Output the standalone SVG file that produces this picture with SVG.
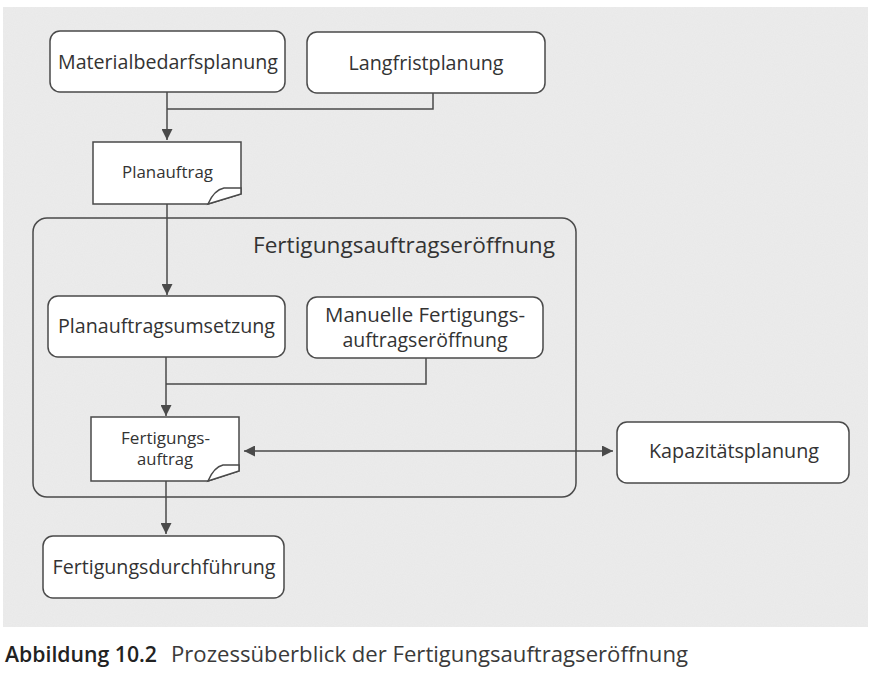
<svg xmlns="http://www.w3.org/2000/svg" width="876" height="682" viewBox="0 0 876 682">
  <defs>
    <style>
      .box { fill: #ffffff; stroke: #4a4a4a; stroke-width: 1.5; }
      .cont { fill: none; stroke: #4a4a4a; stroke-width: 1.5; }
      .line { fill: none; stroke: #4a4a4a; stroke-width: 1.5; }
      .lbl { font-family: "Open Sans", "Noto Sans", "Liberation Sans", sans-serif; font-size: 20px; fill: #333333; text-anchor: middle; }
      .small { font-size: 16px; }
      .title { font-family: "Open Sans", "Noto Sans", "Liberation Sans", sans-serif; font-size: 21px; fill: #333333; text-anchor: end; }
      .cap { font-family: "Open Sans", "Noto Sans", "Liberation Sans", sans-serif; font-size: 22px; fill: #3a3a3a; }
      .capb { font-weight: 600; fill: #222222; }
    </style>
    <marker id="arr" viewBox="0 0 10 10" refX="10" refY="5" markerWidth="11" markerHeight="11" markerUnits="userSpaceOnUse" orient="auto-start-reverse">
      <path d="M0,0 L10,5 L0,10 Z" fill="#4a4a4a"/>
    </marker>
    <filter id="paper" x="0" y="0" width="100%" height="100%">
      <feTurbulence type="fractalNoise" baseFrequency="0.9" numOctaves="2" seed="3" result="n"/>
      <feColorMatrix in="n" type="matrix" values="0 0 0 0 0.5  0 0 0 0 0.5  0 0 0 0 0.5  0 0 0 0.1 0" result="g"/>
      <feComposite in="g" in2="SourceGraphic" operator="over"/>
    </filter>
  </defs>

  <rect x="0" y="0" width="876" height="682" fill="#ffffff"/>
  <rect id="paper-bg" x="3" y="7" width="865" height="620" fill="#ececec" filter="url(#paper)"/>

  <g id="container-fertigungsauftragseroeffnung">
    <rect class="cont" x="33" y="218" width="543" height="279" rx="14"/>
    <text class="title" x="555" y="253" textLength="302" lengthAdjust="spacingAndGlyphs">Fertigungsauftragseröffnung</text>
  </g>

  <g id="connectors">
    <polyline class="line" points="433,93 433,109 167,109"/>
    <line class="line" x1="167" y1="92" x2="167" y2="140" marker-end="url(#arr)"/>
    <line class="line" x1="167" y1="204" x2="167" y2="295" marker-end="url(#arr)"/>
    <polyline class="line" points="426,358 426,384 166,384"/>
    <line class="line" x1="166" y1="357" x2="166" y2="416" marker-end="url(#arr)"/>
    <line class="line" x1="244" y1="451" x2="613" y2="451" marker-start="url(#arr)" marker-end="url(#arr)"/>
    <line class="line" x1="166" y1="481" x2="166" y2="534" marker-end="url(#arr)"/>
  </g>

  <g id="materialbedarfsplanung">
    <rect class="box" x="50" y="31" width="235" height="61" rx="10"/>
    <text class="lbl" x="168" y="69" textLength="220" lengthAdjust="spacingAndGlyphs">Materialbedarfsplanung</text>
  </g>

  <g id="langfristplanung">
    <rect class="box" x="307" y="32" width="238" height="61" rx="10"/>
    <text class="lbl" x="426" y="70" textLength="155" lengthAdjust="spacingAndGlyphs">Langfristplanung</text>
  </g>

  <g id="planauftrag">
    <path class="box" d="M93,142 H241 V194 L208,204 H93 Z"/>
    <path class="box" d="M208,204 Q214,190 224,188 H241 V194 Z"/>
    <text class="lbl small" x="167.5" y="178" textLength="91" lengthAdjust="spacingAndGlyphs">Planauftrag</text>
  </g>

  <g id="planauftragsumsetzung">
    <rect class="box" x="48" y="296" width="237" height="61" rx="10"/>
    <text class="lbl" x="166.5" y="333" textLength="217" lengthAdjust="spacingAndGlyphs">Planauftragsumsetzung</text>
  </g>

  <g id="manuelle-fertigungsauftragseroeffnung">
    <rect class="box" x="307" y="297" width="236" height="61" rx="10"/>
    <text class="lbl" x="425" y="322" textLength="200" lengthAdjust="spacingAndGlyphs">Manuelle Fertigungs-</text>
    <text class="lbl" x="425" y="347" textLength="165" lengthAdjust="spacingAndGlyphs">auftragseröffnung</text>
  </g>

  <g id="fertigungsauftrag">
    <path class="box" d="M91,417 H239 V471 L208,481 H91 Z"/>
    <path class="box" d="M208,481 Q214,467 223,465 H239 V471 Z"/>
    <text class="lbl small" x="165.5" y="444" textLength="89" lengthAdjust="spacingAndGlyphs">Fertigungs-</text>
    <text class="lbl small" x="165" y="465" textLength="56" lengthAdjust="spacingAndGlyphs">auftrag</text>
  </g>

  <g id="kapazitaetsplanung">
    <rect class="box" x="617" y="422" width="232" height="61" rx="10"/>
    <text class="lbl" x="734" y="458" textLength="170" lengthAdjust="spacingAndGlyphs">Kapazitätsplanung</text>
  </g>

  <g id="fertigungsdurchfuehrung">
    <rect class="box" x="43" y="536" width="241" height="62" rx="10"/>
    <text class="lbl" x="164" y="574" textLength="223" lengthAdjust="spacingAndGlyphs">Fertigungsdurchführung</text>
  </g>

  <g id="caption">
    <text class="cap capb" x="5" y="662" textLength="152" lengthAdjust="spacingAndGlyphs">Abbildung 10.2</text>
    <text class="cap" x="171" y="662" textLength="517" lengthAdjust="spacingAndGlyphs">Prozessüberblick der Fertigungsauftragseröffnung</text>
  </g>
</svg>
